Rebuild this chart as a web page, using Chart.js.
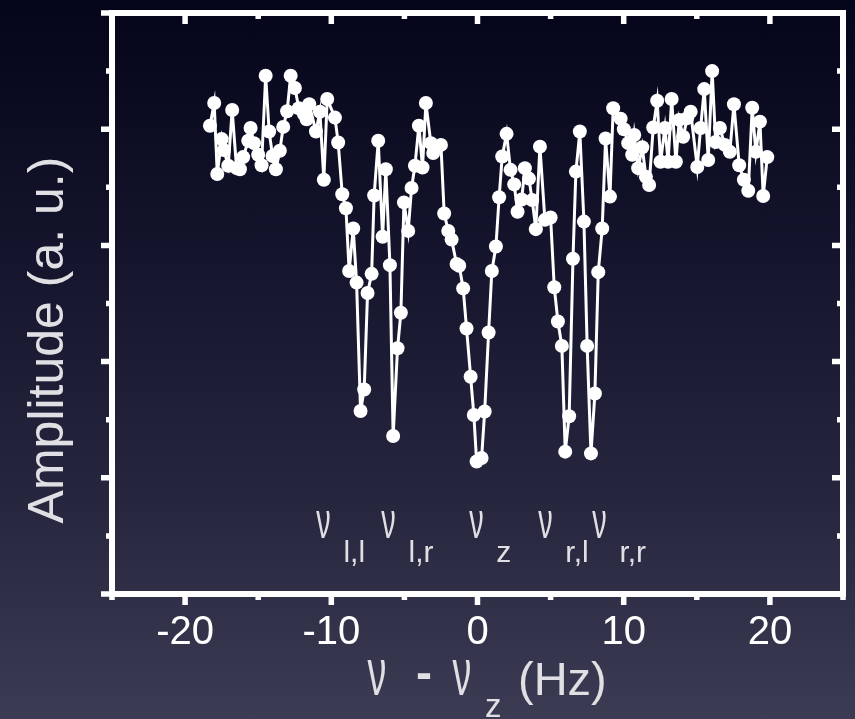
<!DOCTYPE html>
<html>
<head>
<meta charset="utf-8">
<script src="https://cdn.jsdelivr.net/npm/chart.js@4.4.1/dist/chart.umd.min.js"></script>
<style>
  html, body { margin: 0; padding: 0; }
  body {
    width: 855px; height: 719px; overflow: hidden;
    background: linear-gradient(to bottom, #04041a 0%, #14142c 35%, #26263f 70%, #3c3b54 100%);
  }
  canvas { display: block; }
</style>
</head>
<body>
<canvas id="chart" width="855" height="719"></canvas>
<script>
// detuning from the axial frequency (Hz)
const detuning = [
  -18.30, -18.01, -17.80, -17.50, -17.35, -17.05, -16.78, -16.48, -16.25, -16.03,
  -15.68, -15.52, -15.29, -15.00, -14.77, -14.49, -14.25, -14.02, -13.79, -13.52,
  -13.29, -13.02, -12.78, -12.49, -12.22, -11.87, -11.69, -11.51, -11.05, -10.78,
  -10.51, -10.28, -9.75, -9.53, -9.25, -9.00, -8.78, -8.50, -8.27, -8.00,
  -7.75, -7.52, -7.24, -7.07, -6.79, -6.49, -6.27, -5.99, -5.77, -5.47,
  -5.24, -5.03, -4.74, -4.51, -4.28, -4.01, -3.76, -3.53, -3.19, -3.03,
  -2.50, -2.28, -2.00, -1.77, -1.43, -1.25, -0.98, -0.75, -0.47, -0.25,
  -0.06, 0.28, 0.49, 0.76, 0.98, 1.26, 1.48, 1.69, 1.99, 2.26,
  2.51, 2.74, 3.02, 3.24, 3.52, 3.74, 3.99, 4.27, 4.61, 5.00,
  5.25, 5.50, 5.77, 6.00, 6.27, 6.53, 6.73, 7.00, 7.28, 7.50,
  7.76, 8.03, 8.26, 8.53, 8.76, 9.06, 9.28, 9.79, 10.01, 10.31,
  10.58, 10.72, 10.99, 11.27, 11.52, 11.74, 12.02, 12.29, 12.52, 12.82,
  13.04, 13.28, 13.57, 13.80, 14.07, 14.34, 14.58, 15.03, 15.26, 15.51,
  15.78, 16.05, 16.29, 16.58, 16.92, 17.26, 17.54, 17.90, 18.22, 18.52,
  18.79, 19.04, 19.32, 19.54, 19.82
];
// amplitude (a. u.)
const amplitude = [
  8.06, 8.45, 7.23, 7.83, 7.64, 7.37, 8.33, 7.33, 7.31, 7.52,
  7.80, 8.02, 7.76, 7.56, 7.38, 8.92, 7.96, 7.54, 7.31, 7.63,
  8.04, 8.31, 8.92, 8.71, 8.36, 8.26, 8.17, 8.43, 7.96, 8.30,
  7.13, 8.52, 8.20, 7.77, 6.88, 6.64, 5.56, 6.29, 5.36, 3.15,
  3.52, 5.18, 5.51, 6.86, 7.80, 6.15, 7.31, 5.66, 2.72, 4.23,
  4.84, 6.74, 6.25, 6.99, 7.37, 8.06, 7.34, 8.45, 7.76, 7.59,
  7.73, 6.55, 6.25, 6.10, 5.68, 5.65, 5.26, 4.57, 3.74, 3.08,
  2.28, 2.34, 3.14, 4.50, 5.56, 5.98, 6.83, 7.53, 7.92, 7.30,
  7.05, 6.58, 6.79, 7.33, 7.15, 6.78, 6.28, 7.70, 6.44, 6.48,
  5.28, 4.69, 4.27, 2.45, 3.06, 5.77, 7.27, 7.96, 6.41, 4.27,
  2.42, 3.45, 5.54, 6.29, 7.84, 6.84, 8.36, 8.18, 8.00, 7.76,
  7.56, 7.90, 7.33, 7.69, 7.18, 7.04, 8.03, 8.49, 7.44, 8.02,
  7.44, 8.52, 7.44, 8.16, 7.87, 8.19, 8.30, 7.35, 8.02, 8.69,
  7.47, 9.00, 7.78, 8.02, 7.73, 7.61, 8.43, 7.38, 7.13, 6.94,
  8.37, 7.61, 8.13, 6.85, 7.52
];
const xTickLabels = [-20, -10, 0, 10, 20];
const xRange = [-25, 25];
const yRange = [0, 10];
const sidebandNames = ['l,l', 'l,r', 'z', 'r,l', 'r,r'];
const sidebandHz = [-10.54, -6.09, -0.08, 4.64, 8.34];

const textGray = '#e0e0e4';

function drawNu(ctx, x, baseline, size) {
  ctx.save();
  ctx.translate(x, baseline);
  ctx.scale(0.9, 1.6);
  ctx.font = size + 'px "Liberation Sans Narrow", "Liberation Sans", sans-serif';
  ctx.textAlign = 'center';
  ctx.textBaseline = 'alphabetic';
  ctx.fillText('\u03BD', 0, 0);
  ctx.restore();
}

// frame with inner/outer ticks, axis titles and the sideband labels
const framePlugin = {
  id: 'frame',
  afterDraw(chart) {
    const {ctx, chartArea: a, scales: {x, y}} = chart;
    ctx.save();
    ctx.strokeStyle = '#ffffff';
    ctx.lineWidth = 6;
    ctx.strokeRect(a.left, a.top, a.right - a.left, a.bottom - a.top);

    ctx.lineWidth = 5.5;
    ctx.beginPath();
    for (let v = xRange[0]; v <= xRange[1]; v += 5) {
      const px = x.getPixelForValue(v);
      const len = v % 10 === 0 ? 8 : 3;
      ctx.moveTo(px, a.bottom + 3); ctx.lineTo(px, a.bottom + 3 + len);
      ctx.moveTo(px, a.top + 3); ctx.lineTo(px, a.top + 3 + len);
    }
    for (let v = yRange[0]; v <= yRange[1]; v += 1) {
      const py = y.getPixelForValue(v);
      const len = v % 2 === 0 ? 8 : 3;
      ctx.moveTo(a.left - 3, py); ctx.lineTo(a.left - 3 - len, py);
      ctx.moveTo(a.right - 3, py); ctx.lineTo(a.right - 3 - len, py);
    }
    ctx.stroke();

    ctx.fillStyle = textGray;

    // sideband labels
    const nuBase = y.getPixelForValue(0.96);
    sidebandNames.forEach((name, i) => {
      const cx = x.getPixelForValue(sidebandHz[i]);
      drawNu(ctx, cx, nuBase, 32);
      ctx.font = '30px "Liberation Sans", sans-serif';
      ctx.textAlign = 'left';
      ctx.fillText(name, cx + 20, nuBase + 24);
    });

    // x title: nu - nu_z (Hz)
    drawNu(ctx, 377, 695, 42);
    ctx.font = 'bold 48px "Liberation Sans", sans-serif';
    ctx.textAlign = 'left';
    ctx.fillText('-', 416, 689);
    drawNu(ctx, 462, 695, 42);
    ctx.font = '33px "Liberation Sans", sans-serif';
    ctx.fillText('z', 485, 717);
    ctx.font = '47px "Liberation Sans", sans-serif';
    ctx.fillText('(Hz)', 518, 695);

    // y title
    ctx.save();
    ctx.translate(63, 340);
    ctx.rotate(-Math.PI / 2);
    ctx.font = '50px "Liberation Sans", sans-serif';
    ctx.textAlign = 'center';
    ctx.fillText('Amplitude (a. u.)', 0, 0);
    ctx.restore();

    ctx.restore();
  }
};

new Chart(document.getElementById('chart'), {
  type: 'scatter',
  data: {
    datasets: [{
      data: detuning.map((v, i) => ({x: v, y: amplitude[i]})),
      showLine: true,
      borderColor: '#ffffff',
      borderWidth: 3,
      backgroundColor: '#ffffff',
      pointBackgroundColor: '#ffffff',
      pointBorderWidth: 0,
      pointRadius: 7,
      tension: 0
    }]
  },
  options: {
    responsive: false,
    animation: false,
    layout: {padding: {top: 13, right: 12, left: 0, bottom: 0}},
    plugins: {legend: {display: false}, tooltip: {enabled: false}},
    scales: {
      x: {
        type: 'linear',
        min: xRange[0],
        max: xRange[1],
        grid: {display: false, drawTicks: false},
        border: {display: false},
        afterBuildTicks: s => { s.ticks = xTickLabels.map(v => ({value: v})); },
        afterFit: s => { s.height = 125; },
        ticks: {
          color: '#ffffff',
          padding: 15,
          maxRotation: 0,
          font: {family: '"Liberation Sans Narrow", "Liberation Sans", sans-serif', size: 40}
        }
      },
      y: {
        min: yRange[0],
        max: yRange[1],
        grid: {display: false, drawTicks: false},
        border: {display: false},
        ticks: {display: false},
        afterFit: s => { s.width = 112; }
      }
    }
  },
  plugins: [framePlugin]
});
</script>
</body>
</html>
